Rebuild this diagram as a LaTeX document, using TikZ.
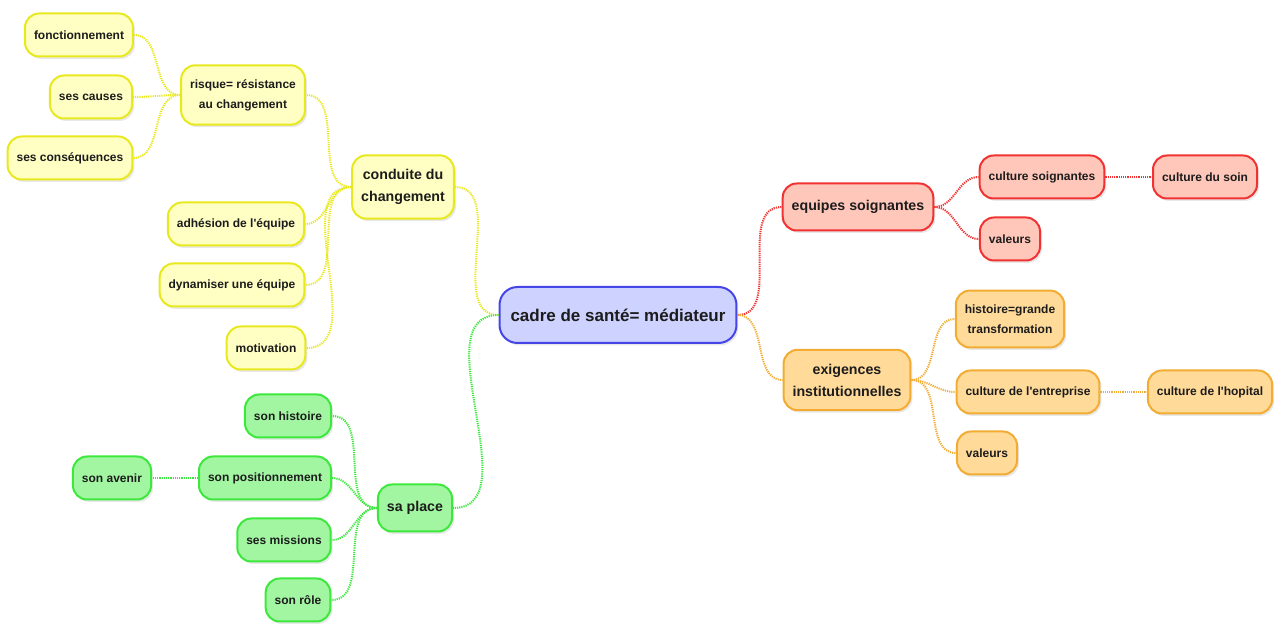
\documentclass[tikz,border=0pt]{standalone}
\usepackage{fontspec}
\setmainfont{Liberation Sans}
\usetikzlibrary{shadows}
\definecolor{jauneb}{RGB}{232,232,30}
\definecolor{jaunef}{RGB}{255,255,196}
\definecolor{vertb}{RGB}{60,232,60}
\definecolor{vertf}{RGB}{162,246,162}
\definecolor{bleub}{RGB}{70,70,232}
\definecolor{bleuf}{RGB}{206,210,255}
\definecolor{rougeb}{RGB}{240,50,50}
\definecolor{rougef}{RGB}{255,198,186}
\definecolor{orangeb}{RGB}{242,172,52}
\definecolor{orangef}{RGB}{255,218,152}
\definecolor{texte}{RGB}{28,28,28}

\begin{document}
\begin{tikzpicture}[x=0.5pt,y=-0.5pt,
    bulle/.style={rounded corners=7pt, line width=1pt, align=center, text=texte,
        font=\bfseries\fontsize{6}{10}\selectfont, inner xsep=4.5pt, inner ysep=7pt,
        minimum height=21.5pt,
        drop shadow={shadow xshift=1pt,shadow yshift=-1.2pt,opacity=0.18}},
    moyen/.style={font=\bfseries\fontsize{7.1}{11}\selectfont, minimum height=23.5pt},
    jaune/.style={bulle, draw=jauneb, fill=jaunef},
    vert/.style={bulle, draw=vertb, fill=vertf},
    rouge/.style={bulle, draw=rougeb, fill=rougef},
    orange/.style={bulle, draw=orangeb, fill=orangef},
    lien/.style={line width=1pt, dash pattern=on 0.6pt off 0.5pt},
    lienj/.style={lien, draw=jauneb},
    lienv/.style={lien, draw=vertb},
    lienr/.style={lien, draw=rougeb},
    lieno/.style={lien, draw=orangeb},
]
\useasboundingbox (0,0) rectangle (1282,625);

% centre
\node[bulle, draw=bleub, fill=bleuf, font=\bfseries\fontsize{8.5}{11}\selectfont,
      minimum height=28pt, inner xsep=5.5pt, rounded corners=9pt] (cadre) at (618,315) {cadre de santé= médiateur};

% branche jaune
\node[jaune, moyen] (conduite) at (403,187) {conduite du\\changement};
\node[jaune] (risque) at (243,95) {risque= résistance\\au changement};
\node[jaune] (fonct) at (79,35) {fonctionnement};
\node[jaune] (causes) at (91,97) {ses causes};
\node[jaune] (consq) at (70,158) {ses conséquences};
\node[jaune] (adhesion) at (236,224) {adhésion de l\textquotesingle équipe};
\node[jaune] (dynam) at (232,285) {dynamiser une équipe};
\node[jaune] (motiv) at (266,348) {motivation};

% branche verte
\node[vert, moyen] (place) at (415,508) {sa place};
\node[vert] (histoire) at (288,416) {son histoire};
\node[vert] (position) at (265,478) {son positionnement};
\node[vert] (avenir) at (112,478) {son avenir};
\node[vert] (missions) at (284,540) {ses missions};
\node[vert] (role) at (298,600) {son rôle};

% branche rouge
\node[rouge, moyen] (equipes) at (858,207) {equipes soignantes};
\node[rouge] (cultsoi) at (1042,177) {culture soignantes};
\node[rouge] (cultsoin) at (1205,177) {culture du soin};
\node[rouge] (valr) at (1010,239) {valeurs};

% branche orange
\node[orange, moyen] (exig) at (847,380) {exigences\\institutionnelles};
\node[orange] (grande) at (1010,319) {histoire=grande\\transformation};
\node[orange] (entrep) at (1028,392) {culture de l\textquotesingle entreprise};
\node[orange] (hopital) at (1210,392) {culture de l\textquotesingle hopital};
\node[orange] (valo) at (987,453) {valeurs};

% liens
\draw[lienj] (cadre.west) to[out=180,in=0] (conduite.east);
\draw[lienj] (conduite.west) to[out=180,in=0] (risque.east);
\draw[lienj] (conduite.west) to[out=180,in=0] (adhesion.east);
\draw[lienj] (conduite.west) to[out=180,in=0] (dynam.east);
\draw[lienj] (conduite.west) to[out=180,in=0] (motiv.east);
\draw[lienj] (risque.west) to[out=180,in=0] (fonct.east);
\draw[lienj] (risque.west) to[out=180,in=0] (causes.east);
\draw[lienj] (risque.west) to[out=180,in=0] (consq.east);

\draw[lienv] (cadre.west) to[out=180,in=0] (place.east);
\draw[lienv] (place.west) to[out=180,in=0] (histoire.east);
\draw[lienv] (place.west) to[out=180,in=0] (position.east);
\draw[lienv] (place.west) to[out=180,in=0] (missions.east);
\draw[lienv] (place.west) to[out=180,in=0] (role.east);
\draw[lienv] (position.west) -- (avenir.east);

\draw[lienr] (cadre.east) to[out=0,in=180] (equipes.west);
\draw[lienr] (equipes.east) to[out=0,in=180] (cultsoi.west);
\draw[lienr] (equipes.east) to[out=0,in=180] (valr.west);
\draw[lienr] (cultsoi.east) -- (cultsoin.west);

\draw[lieno] (cadre.east) to[out=0,in=180] (exig.west);
\draw[lieno] (exig.east) to[out=0,in=180] (grande.west);
\draw[lieno] (exig.east) to[out=0,in=180] (entrep.west);
\draw[lieno] (exig.east) to[out=0,in=180] (valo.west);
\draw[lieno] (entrep.east) -- (hopital.west);
\end{tikzpicture}
\end{document}
